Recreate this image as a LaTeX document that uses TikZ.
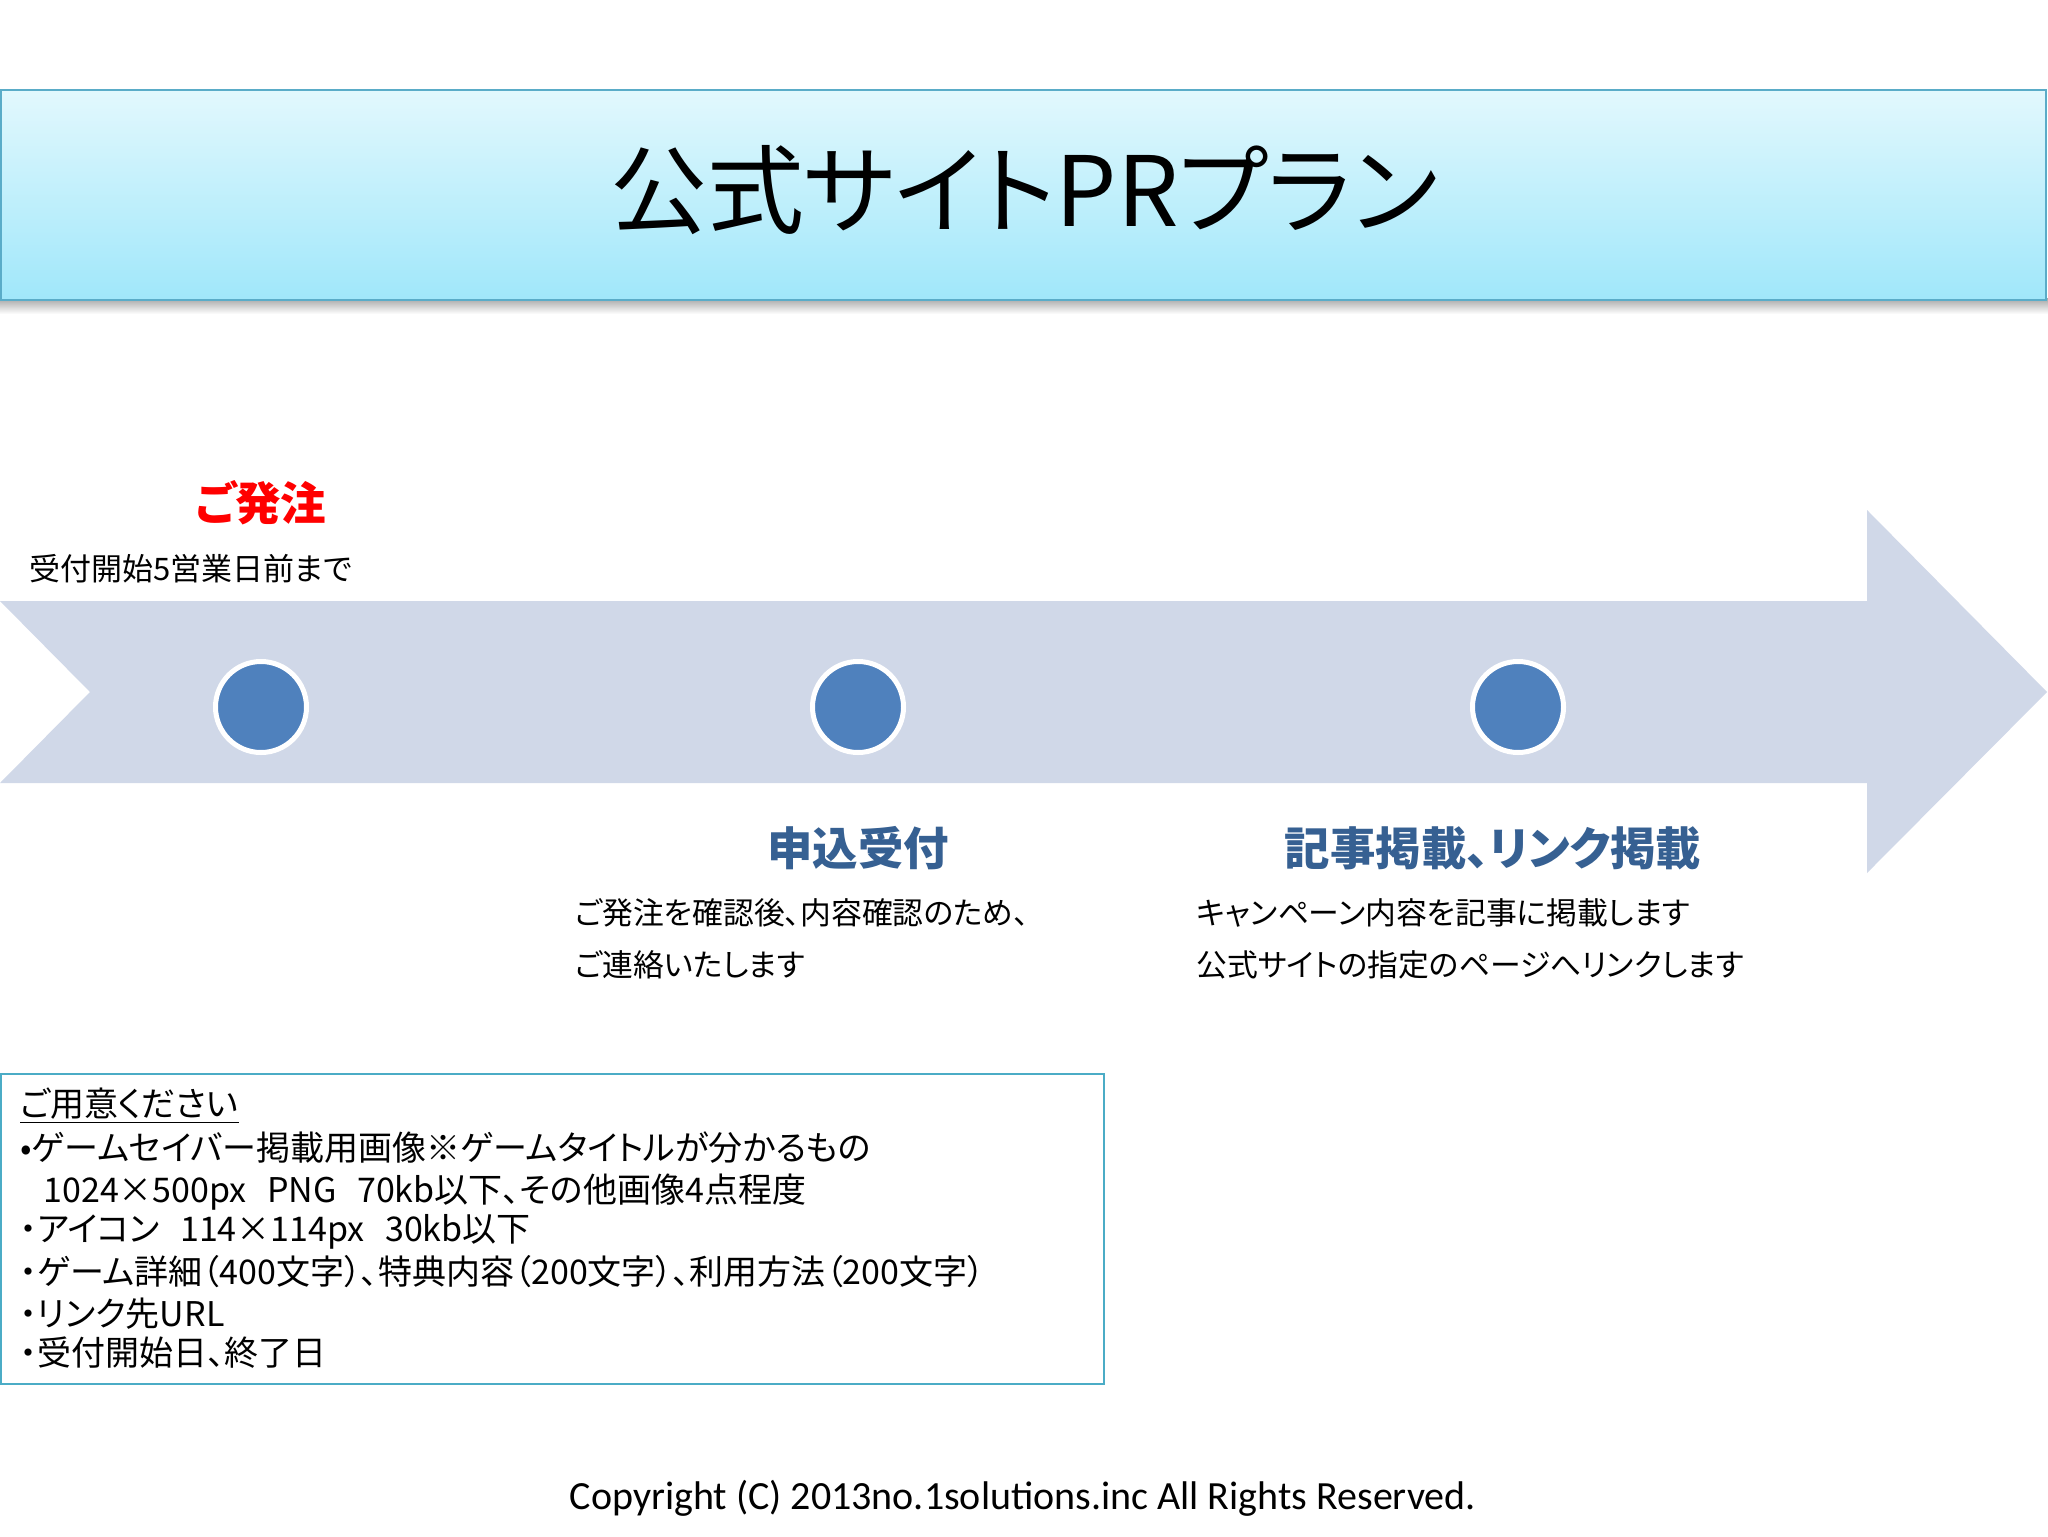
\documentclass[tikz,border=0pt]{standalone}
\usepackage{fontspec}
\setmainfont{Noto Sans CJK JP}[RawFeature={+palt}]
\newfontfamily\cfont{Carlito}
\definecolor{titletop}{RGB}{226,248,253}
\definecolor{titlebot}{RGB}{160,231,250}
\definecolor{titleborder}{RGB}{90,172,200}
\definecolor{arrowc}{RGB}{208,216,232}
\definecolor{circc}{RGB}{79,129,189}
\definecolor{headc}{RGB}{54,96,146}
\definecolor{boxc}{RGB}{75,172,198}
\newcommand{\fsz}[1]{\fontsize{#1}{#1}\selectfont}
\begin{document}
\begin{tikzpicture}[x=0.5pt,y=-0.5pt,
  dot/.style={circle,fill=circc,draw=white,line width=2.5pt,minimum size=45.5pt,inner sep=0pt},
  lbl/.style={inner sep=0pt,anchor=west,font=\fsz{15.4pt}},
  head/.style={inner sep=0pt,font=\fsz{22.7pt}\bfseries,text=headc},
  boxline/.style={inner sep=0pt,anchor=west,font=\fsz{17pt}}]
\useasboundingbox (0,0) rectangle (2048,1536);
\fill[white] (0,0) rectangle (2048,1536);
% title bar
\shade[top color=black!35,bottom color=white] (0,298) rectangle (2048,314);
\shadedraw[top color=titletop,bottom color=titlebot,draw=titleborder,line width=1pt] (1,90) rectangle (2046,300);
\node[inner sep=0pt,font=\fsz{48.5pt}] (title) at (1024,190) {公式サイトPRプラン};
% arrow
\fill[arrowc] (0,601) -- (1867,601) -- (1867,510) -- (2047,692) -- (1867,873) -- (1867,783) -- (0,783) -- (90,692) -- cycle;
\node[dot] (c1) at (261,707) {};
\node[dot] (c2) at (858,707) {};
\node[dot] (c3) at (1518,707) {};
% step texts
\node[inner sep=0pt,font=\fsz{22.8pt}\bfseries,text=red] (order) at (261,503) {ご発注};
\node[lbl,font=\fsz{15.5pt}] (orderd) at (29,569) {受付開始5営業日前まで};
\node[head] (s2) at (858,848) {申込受付};
\node[head] (s3) at (1493,848) {記事掲載、リンク掲載};
\node[lbl] (s2a) at (575,913) {ご発注を確認後、内容確認のため、};
\node[lbl] (s2b) at (575,965) {ご連絡いたします};
\node[lbl] (s3a) at (1196,913) {キャンペーン内容を記事に掲載します};
\node[lbl] (s3b) at (1196,965) {公式サイトの指定のページへリンクします};
% box
\draw[boxc,line width=1pt] (1,1074) rectangle (1104,1384);
\node[boxline] (b0) at (20,1106) {\underline{ご用意ください}};
\node[boxline] (b1) at (20,1148) {•ゲームセイバー掲載用画像※ゲームタイトルが分かるもの};
\node[boxline] (b2) at (43,1192) {1024×500px\hspace{0.6em}PNG\hspace{0.6em}70kb以下、その他画像4点程度};
\node[boxline] (b3) at (20,1232) {・アイコン\hspace{0.6em}114×114px\hspace{0.6em}30kb以下};
\node[boxline] (b4) at (20,1272) {・ゲーム詳細（400文字）、特典内容（200文字）、利用方法（200文字）};
\node[boxline] (b5) at (20,1314) {・リンク先URL};
\node[boxline] (b6) at (20,1353) {・受付開始日、終了日};
% copyright
\node[inner sep=0pt,font=\cfont\fsz{20pt}] (copy) at (1023,1498) {Copyright (C) 2013no.1solutions.inc All Rights Reserved.};
\end{tikzpicture}
\end{document}
